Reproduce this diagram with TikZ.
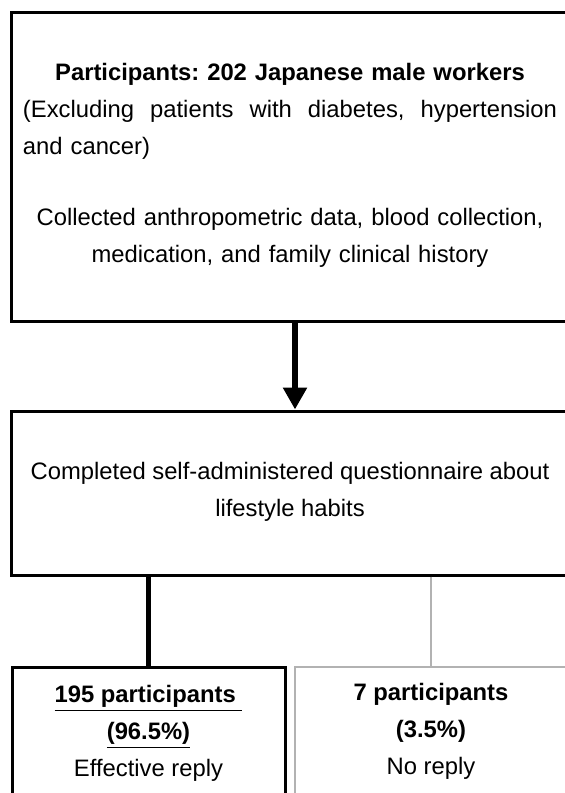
\documentclass[tikz,border=0pt]{standalone}
\usepackage{fontspec}
\setmainfont{Liberation Sans}
\usetikzlibrary{arrows.meta}
\usetikzlibrary{positioning}
\frenchspacing

\tikzset{
  stagebox/.style={draw, line width=1.5pt, inner sep=0pt},
  faintbox/.style={draw=gray!60, line width=0.6pt, inner sep=0pt},
  boxtext/.style={align=center, inner sep=0pt, font=\fontsize{11.9}{18.5}\selectfont},
}

\begin{document}
\begin{tikzpicture}[x=0.5pt, y=-0.5pt]
        % Fix the page to the size of the picture
        \useasboundingbox[fill=white] (0,0) rectangle (564,793);

        % Create the two stage boxes
        \node[stagebox, minimum width=284pt, minimum height=154.5pt] (enrol) at (295,166.5) {};
        \node[stagebox, minimum width=284pt, minimum height=82pt] (quest) at (295,493) {};

        % Texts of the stage boxes
        \node[boxtext, text width=267pt] (enroltext) at (290,165.5) {%
          {\bfseries Participants: 202 Japanese male workers}\\
          \makebox[267pt][l]{(Excluding\hfill patients\hfill with\hfill diabetes,\hfill hypertension}\\
          \makebox[267pt][l]{and cancer)}\\[17pt]
          Collected anthropometric data, blood collection,\\
          medication, and family clinical history};
        \node[boxtext] (questtext) at (290,491.5) {%
          Completed self-administered questionnaire about\\
          lifestyle habits};

        % Create the two outcome boxes
        \node[stagebox, minimum width=136.5pt, minimum height=93pt] (reply) at (148.5,760) {};
        \node[faintbox, minimum width=136pt, minimum height=93pt] (noreply) at (431,760) {};
        \node[boxtext] (replytext) at (148.5,733) {%
          {\bfseries\underline{195 participants\ }}\\
          {\bfseries\underline{(96.5\%)}}\\
          Effective reply};
        \node[boxtext] (noreplytext) at (431,731) {%
          {\bfseries 7 participants}\\
          {\bfseries (3.5\%)}\\
          No reply};

        % Draw the connectors
        \draw[line width=3.2pt, -{Triangle[width=11.5pt,length=11pt]}] (enrol.south) -- (quest.north);
        \draw[line width=2.4pt] (reply.north |- quest.south) -- (reply.north);
        \draw[gray!60, line width=0.6pt] (noreply.north |- quest.south) -- (noreply.north);
\end{tikzpicture}
\end{document}
